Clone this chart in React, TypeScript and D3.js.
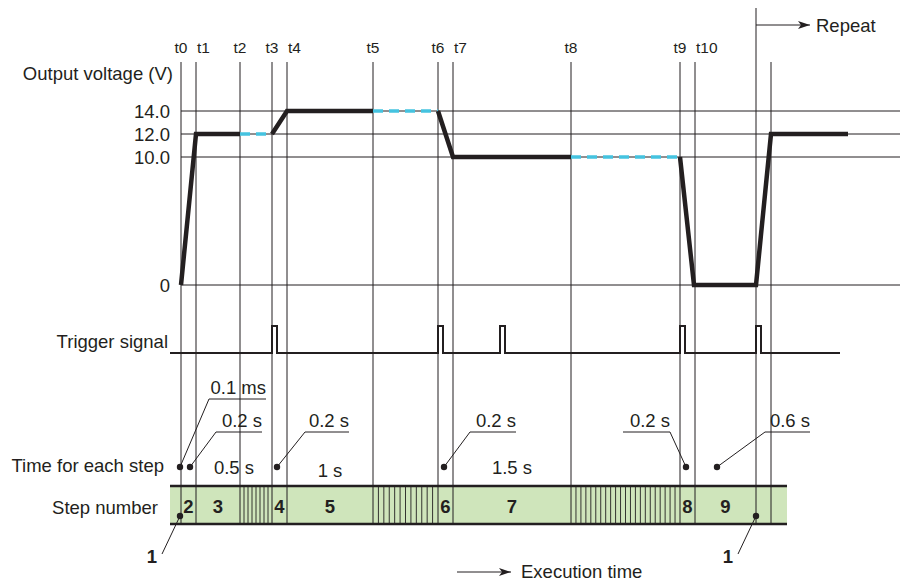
import React from "react";
import * as d3 from "d3";

// ---- data (schematic time units, not to scale) ----
const eventNames = ["t0", "t1", "t2", "t3", "t4", "t5", "t6", "t7", "t8", "t9", "t10"];
const eventTimes = [0, 15, 59, 91, 106, 192, 257, 272, 390, 499, 514];
const repeatTime = 575;
const repeatNextTime = 590;

const voltageLevels = [0, 10, 12, 14];
const voltageLabels = ["0", "10.0", "12.0", "14.0"];

const solidSegments: [number, number][][] = [
  [[0, 0], [15, 12], [59, 12]],
  [[91, 12], [106, 14], [192, 14]],
  [[257, 14], [272, 10], [390, 10]],
  [[499, 10], [513, 0], [575, 0], [590, 12], [667, 12]],
];
const dashedSegments: [number, number][][] = [
  [[59, 12], [91, 12]],
  [[192, 14], [257, 14]],
  [[390, 10], [499, 10]],
];

const triggerTimes = [91, 257, 319, 499, 575];
const triggerWidth = 5;

const hatchRanges: [number, number, number][] = [
  [59, 91, 8],
  [192, 257, 12],
  [390, 499, 22],
];

const stepNumbers = ["2", "3", "4", "5", "6", "7", "8", "9"];
const stepStarts = [0, 15, 91, 106, 257, 272, 499, 514];
const stepEnds = [15, 59, 106, 192, 272, 390, 514, 575];

const durationLabels = ["0.5 s", "1 s", "1.5 s"];
const durationStarts = [15, 106, 272];
const durationEnds = [91, 192, 390];

const leaderLabels = ["0.1 ms", "0.2 s", "0.2 s", "0.2 s", "0.2 s", "0.6 s"];
const leaderDots = [-1, 9, 96, 263, 505, 536];
const leaderElbows = [28, 35, 124, 289, 489, 584];
const leaderEnds = [85, 81, 168, 335, 442, 629];
const leaderHigh = [true, false, false, false, false, false];

const oneMarkers = [-1, 575];

// ---- layout ----
const W = 910;
const H = 582;
const FONT = "'Liberation Sans', Arial, Helvetica, sans-serif";
const INK = "#231f20";
const CYAN = "#45c3e0";
const GREEN = "#cfe5bb";
const FS = 18.5;

export default function App() {
  const x = d3.scaleLinear().domain([0, 719]).range([181, 900]);
  const y = d3.scaleLinear().domain([0, 10, 12, 14]).range([285, 157, 134, 111]);
  const yTrig = d3.scaleLinear().domain([0, 1]).range([353, 326]);

  const line = d3
    .line<[number, number]>()
    .x((d) => x(d[0]))
    .y((d) => y(d[1]));

  const trigPts: [number, number][] = [[-11, 0]];
  triggerTimes.forEach((t) => {
    trigPts.push([t, 0], [t, 1], [t + triggerWidth, 1], [t + triggerWidth, 0]);
  });
  trigPts.push([659, 0]);
  const trigLine = d3
    .line<[number, number]>()
    .x((d) => x(d[0]))
    .y((d) => yTrig(d[1]));

  const gridTop = 62;
  const barTop = 486;
  const barBot = 524;
  const barX0 = x(-11);
  const barX1 = x(606);
  const dotY = 467;

  const verticals = [...eventTimes, repeatNextTime];

  const hatchLines: number[] = [];
  hatchRanges.forEach(([a, b, n]) => {
    d3.range(1, n).forEach((i) => hatchLines.push(a + ((b - a) * i) / n));
  });

  const textProps = { fontFamily: FONT, fill: INK };

  return (
    <svg
      width={W}
      height={H}
      style={{ position: "absolute", left: 0, top: 0, background: "#fff" }}
    >
      <defs>
        <marker
          id="arrow"
          viewBox="0 0 12 8"
          refX="12"
          refY="4"
          markerWidth="12"
          markerHeight="8"
          markerUnits="userSpaceOnUse"
          orient="auto"
        >
          <path d="M0,0 L12,4 L0,8 L3,4 Z" fill={INK} />
        </marker>
      </defs>

      {/* step bar fill */}
      <rect x={barX0} y={barTop} width={barX1 - barX0} height={barBot - barTop} fill={GREEN} />

      {/* horizontal grid lines */}
      {voltageLevels.map((v) => (
        <line key={"h" + v} x1={x(0)} x2={x(719)} y1={y(v)} y2={y(v)} stroke={INK} strokeWidth={1} />
      ))}

      {/* vertical event lines */}
      {verticals.map((t, i) => (
        <line key={"v" + i} x1={x(t)} x2={x(t)} y1={gridTop} y2={barBot} stroke={INK} strokeWidth={1} />
      ))}
      <line x1={x(repeatTime)} x2={x(repeatTime)} y1={8} y2={barBot} stroke={INK} strokeWidth={1} />

      {/* hatches in step bar */}
      {hatchLines.map((t, i) => (
        <line key={"hl" + i} x1={x(t)} x2={x(t)} y1={barTop} y2={barBot} stroke={INK} strokeWidth={0.9} />
      ))}

      {/* bar borders */}
      <line x1={barX0} x2={barX1} y1={barTop} y2={barTop} stroke={INK} strokeWidth={2.5} />
      <line x1={barX0} x2={barX1} y1={barBot} y2={barBot} stroke={INK} strokeWidth={2.5} />

      {/* voltage profile */}
      {dashedSegments.map((s, i) => (
        <path key={"d" + i} d={line(s) || ""} fill="none" stroke={CYAN} strokeWidth={3.5} strokeDasharray="10,6" />
      ))}
      {solidSegments.map((s, i) => (
        <path key={"s" + i} d={line(s) || ""} fill="none" stroke={INK} strokeWidth={4.5} strokeLinejoin="miter" />
      ))}

      {/* trigger signal */}
      <path d={trigLine(trigPts) || ""} fill="none" stroke={INK} strokeWidth={2} />

      {/* event labels */}
      {eventNames.map((n, i) => {
        const close = i > 0 && eventTimes[i] - eventTimes[i - 1] < 20;
        return (
          <text
            key={"tl" + i}
            x={close ? x(eventTimes[i]) + 1 : x(eventTimes[i])}
            y={53}
            textAnchor={close ? "start" : "middle"}
            fontSize={15.5}
            {...textProps}
          >
            {n}
          </text>
        );
      })}

      {/* voltage tick labels */}
      {voltageLevels.map((v, i) => (
        <text key={"vl" + v} x={170} y={y(v) + 7} textAnchor="end" fontSize={FS} {...textProps}>
          {voltageLabels[i]}
        </text>
      ))}

      {/* row labels */}
      <text x={173} y={80} textAnchor="end" fontSize={FS} {...textProps}>Output voltage (V)</text>
      <text x={168} y={348} textAnchor="end" fontSize={FS} {...textProps}>Trigger signal</text>
      <text x={164} y={472} textAnchor="end" fontSize={FS} {...textProps}>Time for each step</text>
      <text x={158} y={514} textAnchor="end" fontSize={FS} {...textProps}>Step number</text>

      {/* step numbers */}
      {stepNumbers.map((n, i) => (
        <text
          key={"sn" + i}
          x={(x(stepStarts[i]) + x(stepEnds[i])) / 2}
          y={513}
          textAnchor="middle"
          fontSize={FS}
          fontWeight="bold"
          {...textProps}
        >
          {n}
        </text>
      ))}

      {/* durations */}
      {durationLabels.map((l, i) => (
        <text
          key={"du" + i}
          x={(x(durationStarts[i]) + x(durationEnds[i])) / 2}
          y={i === 1 ? 477 : 474}
          textAnchor="middle"
          fontSize={FS}
          {...textProps}
        >
          {l}
        </text>
      ))}

      {/* leader annotations */}
      {leaderLabels.map((l, i) => {
        const ly = leaderHigh[i] ? 399 : 432;
        const xa = x(Math.min(leaderElbows[i], leaderEnds[i]));
        const xb = x(Math.max(leaderElbows[i], leaderEnds[i]));
        return (
          <g key={"ld" + i}>
            <line x1={xa} x2={xb} y1={ly} y2={ly} stroke={INK} strokeWidth={1} />
            <line x1={x(leaderElbows[i])} y1={ly} x2={x(leaderDots[i])} y2={dotY} stroke={INK} strokeWidth={1} />
            <circle cx={x(leaderDots[i])} cy={dotY} r={3.2} fill={INK} />
            <text x={xb} y={ly - 5} textAnchor="end" fontSize={FS} {...textProps}>
              {l}
            </text>
          </g>
        );
      })}

      {/* step 1 markers */}
      {oneMarkers.map((t, i) => (
        <g key={"one" + i}>
          <line x1={x(t)} y1={516} x2={x(t) - 18} y2={554} stroke={INK} strokeWidth={1} />
          <circle cx={x(t)} cy={516} r={3.2} fill={INK} />
          <text x={x(t) - 28} y={563} textAnchor="middle" fontSize={FS} fontWeight="bold" {...textProps}>
            1
          </text>
        </g>
      ))}

      {/* repeat arrow */}
      <line x1={x(repeatTime)} x2={810} y1={25} y2={25} stroke={INK} strokeWidth={1} markerEnd="url(#arrow)" />
      <text x={816} y={32} fontSize={FS} {...textProps}>Repeat</text>

      {/* execution time arrow */}
      <line x1={457} x2={511} y1={572} y2={572} stroke={INK} strokeWidth={1} markerEnd="url(#arrow)" />
      <text x={521} y={578} fontSize={FS} {...textProps}>Execution time</text>
    </svg>
  );
}
